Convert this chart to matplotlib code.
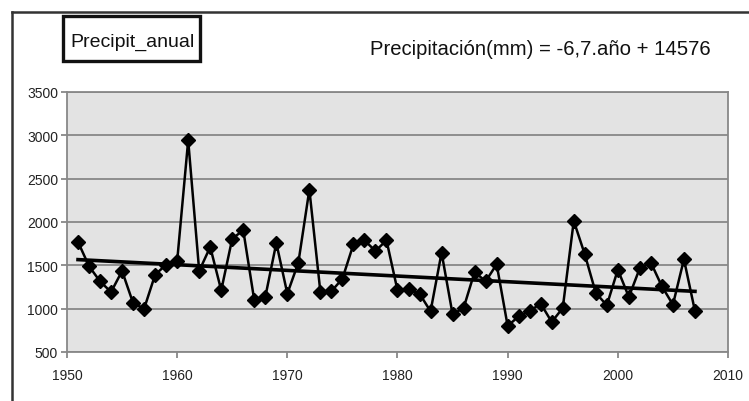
import matplotlib.pyplot as plt
import numpy as np
from matplotlib.lines import Line2D
from matplotlib.patches import Rectangle

plt.rcParams['font.family'] = ['Liberation Sans', 'DejaVu Sans']

# annual precipitation (mm), 1951-2007
years = list(range(1951, 2008))
precip = [1770, 1490, 1315, 1192, 1435, 1065, 1000, 1392, 1508, 1550,
          2942, 1435, 1712, 1212, 1808, 1904, 1096, 1135, 1758, 1173,
          1531, 2373, 1192, 1200, 1346, 1742, 1789, 1665, 1789, 1212,
          1223, 1173, 969, 1646, 935, 1008, 1423, 1315, 1512, 800,
          912, 973, 1058, 846, 1008, 2012, 1627, 1181, 1039, 1450,
          1135, 1469, 1531, 1258, 1046, 1569, 973]

xticks = [1950, 1960, 1970, 1980, 1990, 2000, 2010]
yticks = [500, 1000, 1500, 2000, 2500, 3000, 3500]

W, H = 749, 402
fig = plt.figure(figsize=(W / 100, H / 100), dpi=100)
ax = fig.add_axes([67 / W, 1 - 353 / H, (728 - 67) / W, (353 - 93) / H])
ax.set_facecolor('#e3e3e3')

ax.plot(years, precip, color='black', lw=1.8, marker='D', ms=7, zorder=3,
        solid_joinstyle='round')

# linear trend
slope, icpt = np.polyfit(years, precip, 1)
xt = np.array([years[0], years[-1]])
ax.plot(xt, slope * xt + icpt, color='black', lw=2.6, zorder=2)

ax.set_xlim(1950, 2010)
ax.set_ylim(500, 3500)
ax.set_xticks(xticks)
ax.set_yticks(yticks)
ax.yaxis.grid(True, color='#888888', lw=1.3)
ax.set_axisbelow(True)
for s in ax.spines.values():
    s.set_color('#888888')
    s.set_linewidth(1.3)
ax.tick_params(axis='both', colors='#888888', labelcolor='#222222',
               labelsize=10, length=4.5, width=1.3, direction='out')
ax.tick_params(axis='y', pad=2)
ax.tick_params(axis='x', pad=7)

# outer chart frame (cropped)
fig.add_artist(Line2D([12 / W, 12 / W], [0, 1 - 13 / H], color='#333333', lw=1.8))
fig.add_artist(Line2D([12 / W, 1], [1 - 13 / H, 1 - 13 / H], color='#333333', lw=1.8))

# legend box
fig.add_artist(Rectangle((63 / W, 1 - 62 / H), 137 / W, 45 / H, transform=fig.transFigure,
                         fill=False, ec='#111111', lw=2.4))
fig.text(70 / W, 1 - 47 / H, 'Precipit_anual', fontsize=14, va='baseline', ha='left',
         color='#111111')

fig.text(370 / W, 1 - 55 / H, 'Precipitación(mm) = -6,7.año + 14576', fontsize=14.6,
         va='baseline', ha='left', color='#111111')

fig.savefig('out.png', dpi=100, facecolor='white')
plt.close()
